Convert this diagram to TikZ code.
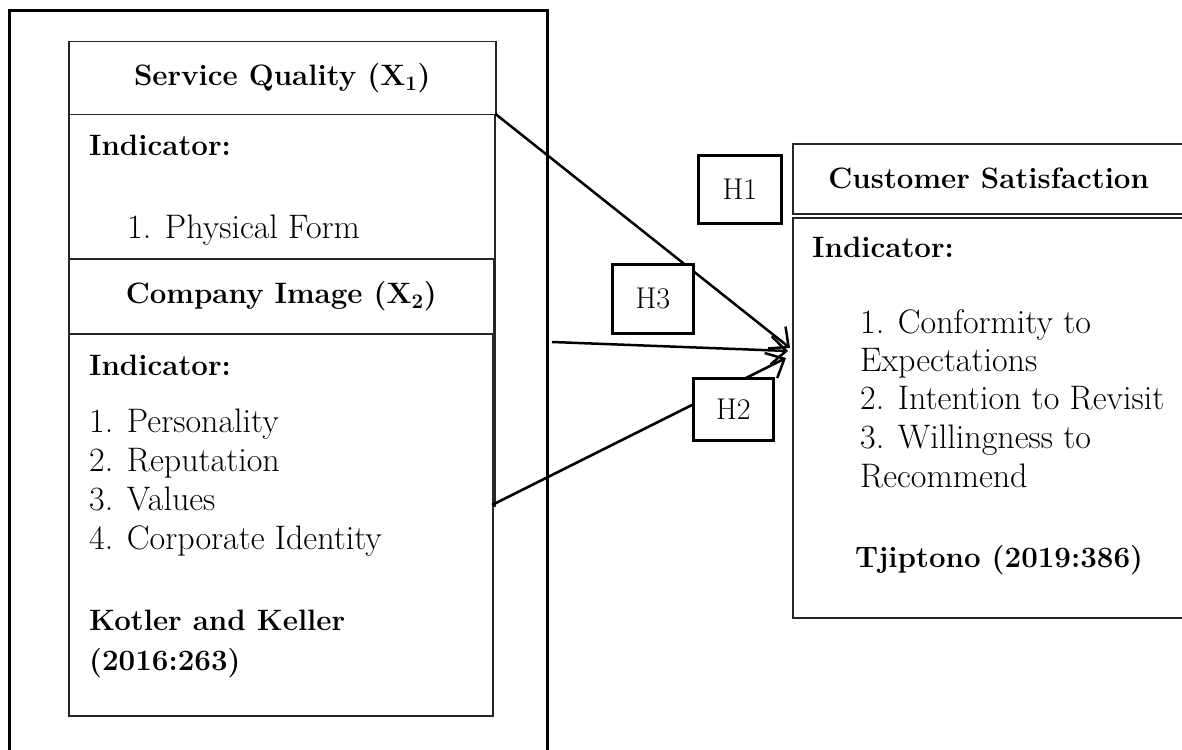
\documentclass[tikz,border=0pt]{standalone}
\usetikzlibrary{arrows.meta}
\newcommand\txtreg{\fontsize{34}{40}\selectfont}
\newcommand\txtbold{\fontsize{29.5}{39}\selectfont\bfseries}
\newcommand\txth{\fontsize{30}{34}\selectfont}
\begin{document}
\begin{tikzpicture}[x=1pt,y=-1pt,
  outerframe/.style={draw=black,line width=3pt},
  box/.style={draw=black!85,line width=1.5pt,fill=white,rectangle,inner sep=0pt,anchor=north west},
  hbox/.style={draw=black,line width=2.7pt,fill=white,rectangle,inner sep=0pt,anchor=north west,font=\txth},
  hdr/.style={box,font=\txtbold},
  txt/.style={anchor=base west,inner sep=0pt,font=\txtreg},
  btxt/.style={anchor=base west,inner sep=0pt,font=\txtbold},
  arr/.style={line width=2.5pt,-{Straight Barb[length=15pt,width=28pt,line width=2.5pt]}}
]
\useasboundingbox (0,0) rectangle (1182,749);
\clip (0,0) rectangle (1182,749);

% outer frame (open below the picture)
\draw[outerframe] (9,11) rectangle (547,800);

% Service Quality
\node[hdr,minimum width=427pt,minimum height=73pt] (sqh) at (68,41) {Service Quality (X\textsubscript{1})};
\node[box,minimum width=426pt,minimum height=391pt] (sqb) at (68,114) {};
\node[btxt] (sqi) at (89,155) {Indicator:};
\node[txt] (sq1) at (127,238) {1. Physical Form};

% Company Image
\node[hdr,minimum width=425pt,minimum height=75pt] (cih) at (68,258) {Company Image (X\textsubscript{2})};
\node[box,minimum width=424pt,minimum height=382pt] (cib) at (68,333) {};
\node[btxt] (cii) at (89,375) {Indicator:};
\node[txt] (ci1) at (89,432) {1. Personality};
\node[txt] (ci2) at (89,471) {2. Reputation};
\node[txt] (ci3) at (89,510) {3. Values};
\node[txt] (ci4) at (89,549) {4. Corporate Identity};
\node[btxt] (cik) at (89,630) {Kotler and Keller};
\node[btxt] (ciy) at (89,670) {(2016:263)};

% Customer Satisfaction
\node[hdr,minimum width=392pt,minimum height=70pt] (csh) at (792,143) {Customer Satisfaction};
\node[box,minimum width=392pt,minimum height=400pt] (csb) at (792,217) {};
\node[btxt] (csi) at (812,257) {Indicator:};
\node[txt] (cs1) at (860,333) {1. Conformity to};
\node[txt] (cs1b) at (860,371) {Expectations};
\node[txt] (cs2) at (860,409) {2. Intention to Revisit};
\node[txt] (cs3) at (860,448) {3. Willingness to};
\node[txt] (cs3b) at (860,487) {Recommend};
\node[btxt] (cst) at (855,567) {Tjiptono (2019:386)};

% connectors
\coordinate (t1) at (790,348);
\coordinate (t2) at (788,351);
\coordinate (t3) at (786,358);
\coordinate (s2) at (552,342);
\coordinate (s3) at (492,505);
\draw[arr] (sqb.north east) -- (t1);
\draw[arr] (s2) -- (t2);
\draw[arr] (s3) -- (t3);

% hypothesis labels
\node[hbox,minimum width=83pt,minimum height=68pt] (h1) at (697,154) {H1};
\node[hbox,minimum width=81pt,minimum height=69pt] (h3) at (611,263) {H3};
\node[hbox,minimum width=80pt,minimum height=62pt] (h2) at (692,377) {H2};
\end{tikzpicture}
\end{document}
